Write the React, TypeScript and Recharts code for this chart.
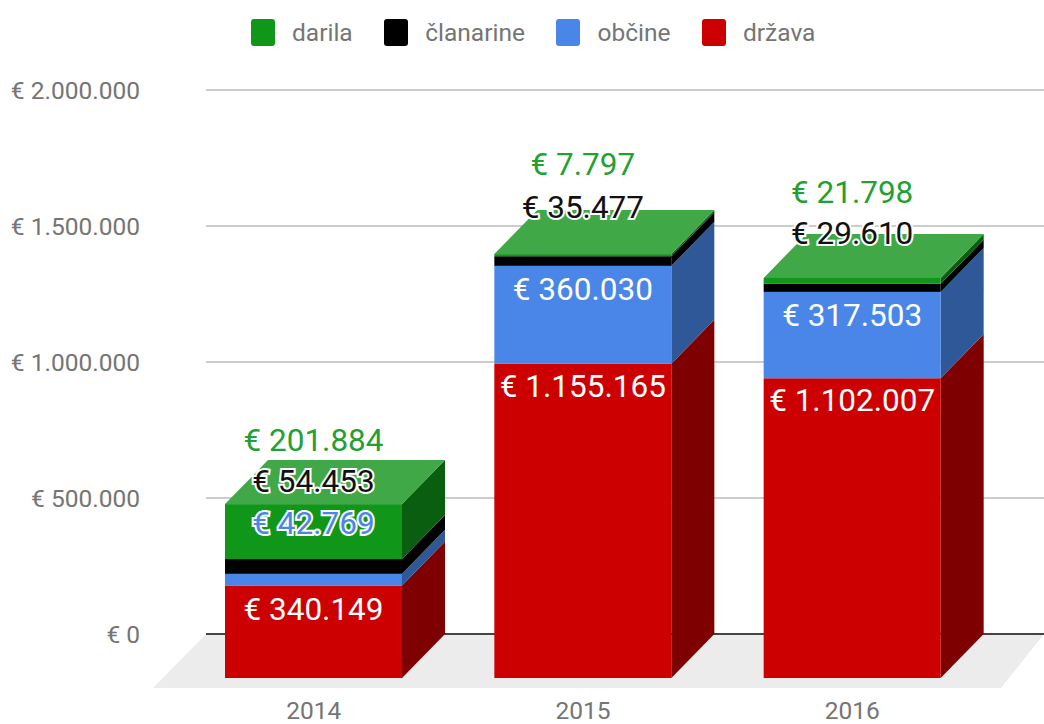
import React from 'react';
import { BarChart, Bar, XAxis, YAxis, CartesianGrid, Legend, LabelList } from 'recharts';

const years = ['2014', '2015', '2016'];
const drzava = [340149, 1155165, 1102007];
const obcine = [42769, 360030, 317503];
const clanarine = [54453, 35477, 29610];
const darila = [201884, 7797, 21798];
const yTicks = [0, 500000, 1000000, 1500000, 2000000];

// label centre relative to the top of the front face, per year
const drzavaLabelShift = [23, 22, 21];
const obcineLabelShift = [-51, 23, 23];
const clanarineLabelShift = [-78, -50, -51];
const darilaLabelShift = [-64, -90, -86];

const data = years.map((year, i) => ({
  year,
  drzava: drzava[i],
  obcine: obcine[i],
  clanarine: clanarine[i],
  darila: darila[i],
}));

const FONT = 'Roboto, sans-serif';
const DEPTH_X = 43;
const DEPTH_Y = 44;
const BASELINE_Y = 634;
const GREY = '#757575';

const series = [
  { key: 'drzava', name: 'država', front: '#cc0000', side: '#7f0000', label: '#ffffff', shift: drzavaLabelShift },
  { key: 'obcine', name: 'občine', front: '#4a86e8', side: '#2f5899', label: '#4a86e8', shift: obcineLabelShift },
  { key: 'clanarine', name: 'članarine', front: '#000000', side: '#000000', label: '#111111', shift: clanarineLabelShift },
  { key: 'darila', name: 'darila', front: '#109618', side: '#0a5e0f', label: '#22a032', shift: darilaLabelShift, top: '#40a847' },
];

const euro = (v: number) => '€ ' + String(v).replace(/\B(?=(\d{3})+$)/g, '.');

const Box3D = ({ x, y, width, height, front, side, top }: any) => {
  const fx = x - DEPTH_X;
  const fy = y + DEPTH_Y;
  const r = fx + width;
  const b = fy + height;
  return (
    <g>
      <polygon points={`${r},${fy} ${r + DEPTH_X},${y} ${r + DEPTH_X},${y + height} ${r},${b}`} fill={side} />
      {top && <polygon points={`${fx},${fy} ${fx + DEPTH_X},${y} ${r + DEPTH_X},${y} ${r},${fy}`} fill={top} />}
      <rect x={fx} y={fy} width={width} height={height} fill={front} />
    </g>
  );
};

const renderLabel = (s: any) => (props: any) => {
  const { x, y, width, index, value } = props;
  const shift = s.shift[index];
  const outside = shift < 0;
  const halo = outside && s.key !== 'darila';
  return (
    <text
      x={x - DEPTH_X + width / 2}
      y={y + DEPTH_Y + shift}
      dy="0.36em"
      textAnchor="middle"
      fontFamily={FONT}
      fontSize={31.5}
      fill={outside ? s.label : '#ffffff'}
      stroke={halo ? '#ffffff' : 'none'}
      strokeWidth={halo ? 4 : 0}
      style={{ paintOrder: 'stroke' }}
    >
      {euro(value)}
    </text>
  );
};

const LegendBox = () => (
  <div style={{ display: 'flex', alignItems: 'center', height: 64, paddingLeft: 251, fontFamily: FONT, fontSize: 24.5, color: GREY }}>
    {[...series].reverse().map((s) => (
      <div key={s.key} style={{ display: 'flex', alignItems: 'center', marginRight: 31.5 }}>
        <span style={{ width: 24, height: 27, background: s.front, borderRadius: 3, marginRight: 17 }} />
        <span>{s.name}</span>
      </div>
    ))}
  </div>
);

// grid lines sit under the bars, so the floor and the zero line are drawn here as well
const GridLine = ({ x1, x2, y1 }: any) => {
  if (y1 < BASELINE_Y - 1) {
    return <line x1={x1} y1={y1} x2={x2} y2={y1} stroke="#cccccc" strokeWidth={2} />;
  }
  return (
    <g>
      <polygon
        points={`${x1},${y1} ${x2},${y1} ${x2 - DEPTH_X},${y1 + DEPTH_Y + 10} ${x1 - DEPTH_X - 10},${y1 + DEPTH_Y + 10}`}
        fill="#ececec"
      />
      <line x1={x1} y1={y1} x2={x2} y2={y1} stroke="#444444" strokeWidth={2} />
    </g>
  );
};

export default function App() {
  return (
    <div style={{ position: 'absolute', left: 0, top: 0, width: 1044, height: 724 }}>
      <BarChart
        width={1044}
        height={724}
        data={data}
        barSize={177}
        margin={{ top: 26, right: 0, bottom: 0, left: 0 }}
      >
        <CartesianGrid vertical={false} horizontal={(p: any) => <GridLine key={p.y1} {...p} />} />
        <XAxis
          dataKey="year"
          height={90}
          axisLine={false}
          tickLine={false}
          padding={{ left: 16, right: 14 }}
          tick={({ x, y, payload }: any) => (
            <text x={x - DEPTH_X} y={y + 77} textAnchor="middle" fontFamily={FONT} fontSize={24.5} fill={GREY}>
              {payload.value}
            </text>
          )}
        />
        <YAxis
          width={206}
          domain={[0, 2000000]}
          ticks={yTicks}
          axisLine={false}
          tickLine={false}
          tick={({ y, payload }: any) => (
            <text x={140} y={y} dy="0.36em" textAnchor="end" fontFamily={FONT} fontSize={24.5} fill={GREY}>
              {euro(payload.value)}
            </text>
          )}
        />
        <Legend
          verticalAlign="top"
          align="left"
          content={<LegendBox />}
          wrapperStyle={{ top: 0, left: 0, width: 1044, height: 64 }}
        />
        {series.map((s) => (
          <Bar
            key={s.key}
            dataKey={s.key}
            name={s.name}
            stackId="total"
            fill={s.front}
            isAnimationActive={false}
            shape={<Box3D front={s.front} side={s.side} top={s.top} />}
          >
            <LabelList dataKey={s.key} content={renderLabel(s)} />
          </Bar>
        ))}
      </BarChart>
    </div>
  );
}
